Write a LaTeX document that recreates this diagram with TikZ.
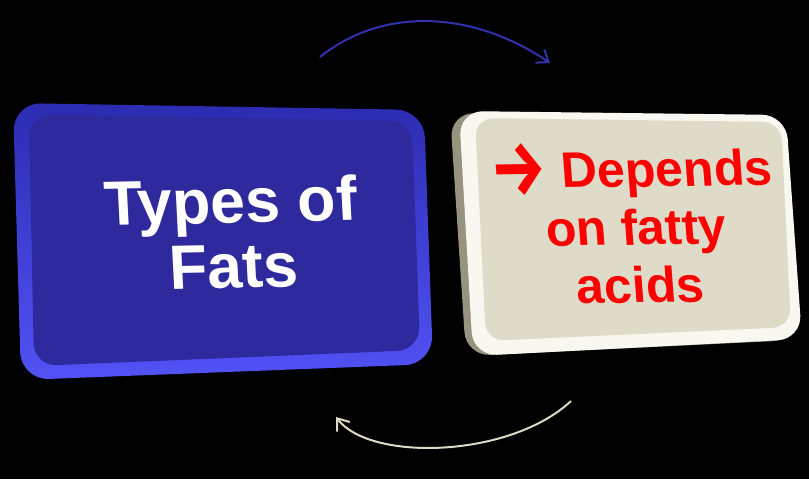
\documentclass[tikz,border=0pt]{standalone}
\usepackage{fontspec}
\setmainfont{Liberation Sans}
\newfontfamily\arrowfont{Fira Sans}
\usetikzlibrary{arrows.meta}
\newcommand{\bigarrow}{\raisebox{-5pt}[0pt][0pt]{\scalebox{1.25}[1.55]{\arrowfont\bfseries →}}}

\begin{document}
\begin{tikzpicture}[x=0.75pt,y=0.75pt,yscale=-1,xscale=1,
    fats rim/.style={rounded corners=21pt, top color={rgb, 255:red, 44; green, 44; blue, 178}, bottom color={rgb, 255:red, 82; green, 82; blue, 246}},
    fats face/.style={rounded corners=17pt, fill={rgb, 255:red, 46; green, 42; blue, 158}},
    acid side/.style={rounded corners=18pt, fill={rgb, 255:red, 150; green, 147; blue, 126}},
    acid rim/.style={rounded corners=18pt, fill={rgb, 255:red, 249; green, 248; blue, 240}},
    acid face/.style={rounded corners=14pt, fill={rgb, 255:red, 223; green, 219; blue, 201}},
    fats text/.style={inner sep=0pt, align=center, text={rgb, 255:red, 255; green, 255; blue, 255}, font=\fontsize{47}{48.75}\selectfont\bfseries},
    acid text/.style={inner sep=0pt, align=center, text={rgb, 255:red, 255; green, 0; blue, 0}, font=\fontsize{37.5}{43.5}\selectfont\bfseries},
    cycle arc/.style={line width=1.5, -{Straight Barb[length=8pt,width=12pt]}}]
    %set diagram left start at 0, and has height of 479
    \useasboundingbox (0,0) rectangle (809,479);
    \fill [black] (0,0) rectangle (809,479);

    %Shape: Rounded Rect [id:types_rim]
    \path [fats rim] (13,103) -- (424,110) -- (433,364) -- (21,380) -- cycle ;
    %Shape: Rounded Rect [id:types_face]
    \path [fats face] (29,114) -- (412,121) -- (420,350) -- (34,366) -- cycle ;
    %Shape: Rounded Rect [id:acids_side]
    \path [acid side] (450,113) -- (780,116) -- (797,340) -- (466,356) -- cycle ;
    %Shape: Rounded Rect [id:acids_rim]
    \path [acid rim] (459,111) -- (786,115) -- (802,339) -- (473,356) -- cycle ;
    %Shape: Rounded Rect [id:acids_face]
    \path [acid face] (475,118) -- (781,122) -- (791,327) -- (486,341) -- cycle ;

    % Text Node
    \draw (232,233) node [fats text, rotate=1.2, xslant=-0.03] (types) {Types of\\Fats};
    % Text Node
    \draw (636,227) node [acid text, rotate=0.8, xslant=-0.06] (depends) {\bigarrow{} Depends\\on fatty\\acids};

    \coordinate (top from) at (320,57);
    \coordinate (top to) at (550,63);
    \coordinate (low from) at (571,401);
    \coordinate (low to) at (336,417);
    %Curve Lines [id:top_arc]
    \draw [cycle arc, color={rgb, 255:red, 50; green, 50; blue, 172}] (top from) .. controls (385,5) and (475,12) .. (top to) ;
    %Curve Lines [id:low_arc]
    \draw [cycle arc, color={rgb, 255:red, 222; green, 217; blue, 196}] (low from) .. controls (510,458) and (370,462) .. (low to) ;

\end{tikzpicture}
\end{document}
